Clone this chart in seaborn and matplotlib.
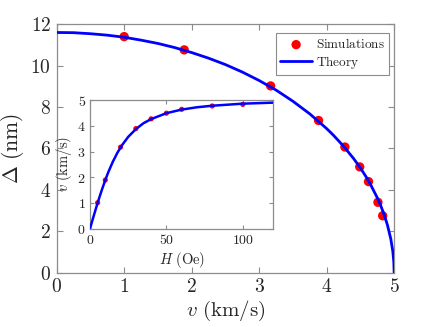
import matplotlib
matplotlib.use("Agg")
import matplotlib.pyplot as plt
import seaborn as sns
import pandas as pd

# ---- data ----
# main panel: wall width vs velocity
sim_v = [1.00, 1.89, 3.17, 3.88, 4.27, 4.49, 4.62, 4.76, 4.83]
sim_delta = [11.40, 10.76, 9.02, 7.35, 6.07, 5.11, 4.40, 3.40, 2.75]

theory_v = [0.0, 0.25, 0.5, 0.75, 1.0, 1.25, 1.5, 1.75, 2.0, 2.25, 2.5, 2.75,
            3.0, 3.25, 3.5, 3.75, 4.0, 4.1, 4.25, 4.4, 4.5, 4.6, 4.65, 4.75,
            4.8, 4.85, 4.9, 4.95, 4.98, 4.995, 5.0]
theory_delta = [11.60, 11.59, 11.54, 11.47, 11.37, 11.23, 11.07, 10.87, 10.63,
                10.36, 10.05, 9.69, 9.28, 8.82, 8.28, 7.67, 6.96, 6.64, 6.11,
                5.51, 5.06, 4.55, 4.26, 3.62, 3.25, 2.82, 2.31, 1.64, 1.04,
                0.52, 0.0]

# inset: velocity vs field
sim_H = [5, 10, 20, 30, 40, 50, 60, 80, 100]
sim_vH = [1.01, 1.89, 3.17, 3.89, 4.27, 4.49, 4.64, 4.77, 4.83]

theory_H = [0, 2, 4, 6, 8, 10, 12, 15, 18, 21, 25, 30, 35, 40, 50, 60, 70,
            80, 90, 100, 110, 120]
theory_vH = [0.0, 0.41, 0.81, 1.19, 1.55, 1.89, 2.20, 2.61, 2.96, 3.25, 3.57,
             3.87, 4.10, 4.26, 4.49, 4.63, 4.72, 4.78, 4.82, 4.86, 4.88, 4.90]

main_xticks = [0, 1, 2, 3, 4, 5]
main_yticks = [0, 2, 4, 6, 8, 10, 12]
inset_xticks = [0, 50, 100]
inset_yticks = [0, 1, 2, 3, 4, 5]

sns.set_theme(style="ticks")
plt.rcParams["mathtext.fontset"] = "cm"
plt.rcParams["font.family"] = ["DejaVu Serif"]

frame_col = "#8c8c8c"
text_col = "#262626"


def style_axes(ax, size, tick_len):
    for s in ax.spines.values():
        s.set_color(frame_col)
        s.set_linewidth(0.9)
    ax.tick_params(direction="in", top=True, right=True, length=tick_len,
                   width=0.8, color=frame_col, labelcolor=text_col,
                   labelsize=size, pad=4)


fig = plt.figure(figsize=(4.36, 3.27), dpi=100)

# ---- main axes ----
ax = fig.add_axes([0.130, 0.166, 0.774, 0.760])
sns.scatterplot(x=sim_v, y=sim_delta, ax=ax, color="#ff0000", s=45,
                edgecolor="none", label="Simulations", zorder=2)
sns.lineplot(x=theory_v, y=theory_delta, ax=ax, color="#0000ff", lw=2.0,
             label="Theory", sort=False, zorder=3)
ax.set_xlim(0, 5)
ax.set_ylim(0, 12)
ax.set_xticks(main_xticks)
ax.set_xticklabels([f"${t}$" for t in main_xticks])
ax.set_yticks(main_yticks)
ax.set_yticklabels([f"${t}$" for t in main_yticks])
style_axes(ax, 14, 4)
ax.set_xlabel(r"$v\ \mathrm{(km/s)}$", fontsize=15, color=text_col, labelpad=2)
ax.set_ylabel(r"$\Delta\ \mathrm{(nm)}$", fontsize=15.5, color=text_col, labelpad=3)

handles, labels = ax.get_legend_handles_labels()
order = [labels.index("Simulations"), labels.index("Theory")]
leg = ax.legend([handles[i] for i in order],
                [r"$\mathrm{Simulations}$", r"$\mathrm{Theory}$"],
                loc="upper right", bbox_to_anchor=(0.984, 0.964),
                borderaxespad=0, fancybox=False, framealpha=1,
                edgecolor=frame_col, fontsize=9.5, handlelength=2.4,
                handletextpad=0.3, borderpad=0.3, labelspacing=0.2)
leg.get_frame().set_linewidth(0.8)

# ---- inset axes ----
ins = fig.add_axes([0.2064, 0.3006, 0.4206, 0.3934])
sns.scatterplot(x=sim_H, y=sim_vH, ax=ins, color="#ff0000", s=14,
                edgecolor="none", zorder=2)
sns.lineplot(x=theory_H, y=theory_vH, ax=ins, color="#0000ff", lw=1.8,
             sort=False, zorder=3)
ins.set_xlim(0, 120)
ins.set_ylim(0, 5)
ins.set_xticks(inset_xticks)
ins.set_xticklabels([f"${t}$" for t in inset_xticks])
ins.set_yticks(inset_yticks)
ins.set_yticklabels([f"${t}$" for t in inset_yticks])
style_axes(ins, 10, 3)
ins.tick_params(pad=3)
ins.set_xlabel(r"$H\ \mathrm{(Oe)}$", fontsize=10.5, color=text_col, labelpad=2)
ins.set_ylabel(r"$v\ \mathrm{(km/s)}$", fontsize=10.5, color=text_col, labelpad=2)

fig.savefig("out.png", dpi=100)
